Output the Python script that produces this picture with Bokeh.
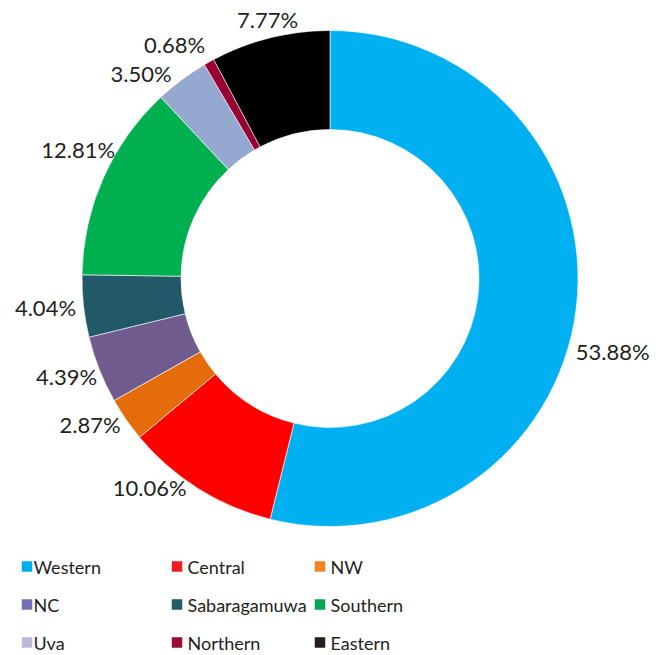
import numpy as np
from bokeh.plotting import figure
from bokeh.models import Range1d, ColumnDataSource
from bokeh.embed import file_html
from bokeh.resources import INLINE
from bokeh.core.properties import value

# ---- data ----
regions = ["Western", "Central", "NW", "NC", "Sabaragamuwa",
           "Southern", "Uva", "Northern", "Eastern"]
shares = [53.88, 10.06, 2.87, 4.39, 4.04, 12.81, 3.50, 0.68, 7.77]

# ---- styles ----
slice_colors = ["#00B0F0", "#FF0000", "#E46C0A", "#705A8E", "#215968",
                "#00B050", "#95A9D0", "#990033", "#000000"]
legend_colors = ["#00AEEF", "#ED1C24", "#F58220", "#7670B3", "#235B67",
                 "#00A651", "#BCB9DB", "#9A0A38", "#231F20"]
text_color = "#231F20"

# label placement tweaks (degrees of angular nudge, radial offset in px)
label_nudge_deg = [-7.5, -8.7, -3.3, -1.2, -0.6, -3.2, 5.9, 4.4, -0.4]
label_dr = [11, -5, 0, 0, 5, 2, -2, 0, -15]

W, H = 659, 655
cx, cy = 329.5, 377.0
r_in, r_out, r_lab = 149.0, 248.0, 281.0

vals = np.array(shares, dtype=float)
frac = vals / vals.sum()
cum = np.concatenate([[0.0], np.cumsum(frac)])
start = np.pi / 2 - 2 * np.pi * cum[:-1]
end = np.pi / 2 - 2 * np.pi * cum[1:]
mid = (start + end) / 2

src = ColumnDataSource(dict(start=start, end=end, color=slice_colors, region=regions))

p = figure(width=W, height=H, x_range=Range1d(0, W), y_range=Range1d(0, H),
           output_backend="svg", toolbar_location=None, min_border=0,
           x_axis_type=None, y_axis_type=None)
p.grid.visible = False
p.outline_line_color = None
p.background_fill_color = "white"
p.border_fill_color = "white"

p.annular_wedge(x=cx, y=cy, inner_radius=r_in, outer_radius=r_out,
                start_angle="start", end_angle="end", direction="clock",
                fill_color="color", line_color="white", line_width=0.6,
                source=src)

# percentage labels
ang = mid + np.deg2rad(label_nudge_deg)
rr = r_lab + np.array(label_dr, dtype=float)
lab_src = ColumnDataSource(dict(
    x=cx + rr * np.cos(ang),
    y=cy + rr * np.sin(ang),
    t=[f"{v:.2f}%" for v in shares]))
p.text(x="x", y="y", text="t", source=lab_src, text_align="center",
       text_baseline="middle", text_font=value("Lato"),
       text_font_size="22px", text_color=text_color)

# legend (3 columns x 3 rows)
col_sq_x = [26.5, 176.5, 319.5]
col_tx_x = [33, 187, 330]
row_y = [H - 566, H - 604, H - 642]
idx = np.arange(len(regions))
leg_src = ColumnDataSource(dict(
    sx=[col_sq_x[i % 3] for i in idx],
    tx=[col_tx_x[i % 3] for i in idx],
    y=[row_y[i // 3] for i in idx],
    color=legend_colors, name=regions))
p.rect(x="sx", y="y", width=10.5, height=10.5, fill_color="color",
       line_color=None, source=leg_src)
p.text(x="tx", y="y", text="name", source=leg_src, text_align="left",
       text_baseline="middle", text_font=value("Lato"),
       text_font_size="18px", text_color=text_color)

open("out.html", "w").write(file_html(p, INLINE))
